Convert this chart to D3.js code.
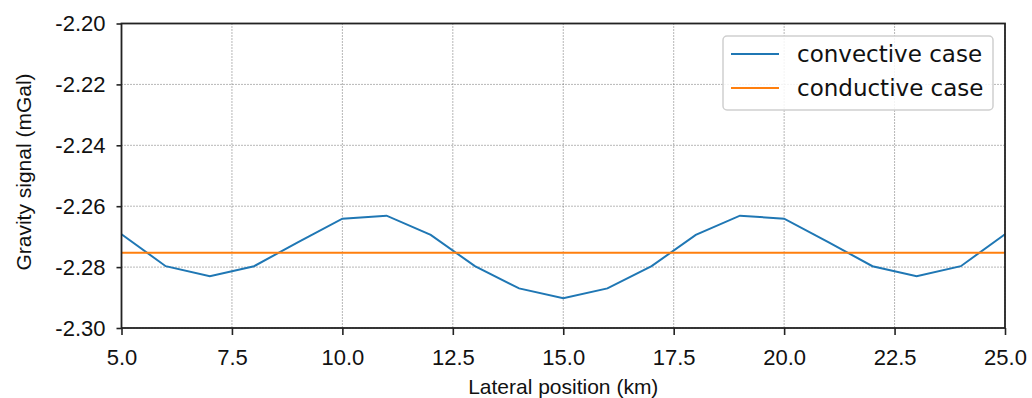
<!DOCTYPE html>
<html>
<head>
<meta charset="utf-8">
<script src="https://cdn.jsdelivr.net/npm/d3@7"></script>
<style>
  html, body { margin: 0; padding: 0; background: #fff; }
  svg { display: block; }
</style>
</head>
<body>
<svg id="chart" width="1032" height="398"></svg>
<script>
// ---- data ----
const positions = [5, 6, 7, 8, 9, 10, 11, 12, 13, 14, 15, 16, 17, 18, 19, 20, 21, 22, 23, 24, 25];
const convective = [-2.2692, -2.2797, -2.2830, -2.2797, -2.2718, -2.2641, -2.2631, -2.2694, -2.2797, -2.2870, -2.2902, -2.2870, -2.2797, -2.2694, -2.2631, -2.2641, -2.2718, -2.2797, -2.2830, -2.2797, -2.2692];
const conductiveValue = -2.2753;
const conductive = positions.map(() => conductiveValue);
const xTicks = [5.0, 7.5, 10.0, 12.5, 15.0, 17.5, 20.0, 22.5, 25.0];
const yTicks = [-2.20, -2.22, -2.24, -2.26, -2.28, -2.30];
const seriesNames = ["convective case", "conductive case"];
const seriesColors = ["#1f77b4", "#ff7f0e"];

// ---- layout ----
const svg = d3.select("#chart");
const L = 121.5, R = 1005, T = 23.5, B = 328;
const x = d3.scaleLinear().domain([5, 25]).range([L, R]);
const y = d3.scaleLinear().domain([-2.30, -2.20]).range([B, T]);

// grid
const grid = svg.append("g");
grid.selectAll("line.gx").data(xTicks).join("line")
  .attr("x1", d => x(d)).attr("x2", d => x(d)).attr("y1", T).attr("y2", B)
  .attr("stroke", "#6e6e6e").attr("stroke-width", 1).attr("stroke-dasharray", "1,2");
grid.selectAll("line.gy").data(yTicks).join("line")
  .attr("x1", L).attr("x2", R).attr("y1", d => y(d)).attr("y2", d => y(d))
  .attr("stroke", "#6e6e6e").attr("stroke-width", 1).attr("stroke-dasharray", "1,2");

// lines
const line = d3.line().x((d, i) => x(positions[i])).y(d => y(d));
svg.append("path").datum(convective).attr("d", line)
  .attr("fill", "none").attr("stroke", seriesColors[0]).attr("stroke-width", 2);
svg.append("path").datum(conductive).attr("d", line)
  .attr("fill", "none").attr("stroke", seriesColors[1]).attr("stroke-width", 2);

// axes
const xAxis = d3.axisBottom(x).tickValues(xTicks).tickFormat(d3.format(".1f")).tickSize(7).tickSizeOuter(0).tickPadding(14);
const yAxis = d3.axisLeft(y).tickValues(yTicks).tickFormat(d => d3.format(".2f")(d).replace("−", "-")).tickSize(5).tickSizeOuter(0).tickPadding(11);

const gx = svg.append("g").attr("transform", `translate(0,${B})`).call(xAxis);
const gy = svg.append("g").attr("transform", `translate(${L},0)`).call(yAxis);
[gx, gy].forEach(g => {
  g.select(".domain").remove();
  g.selectAll(".tick line").attr("stroke", "#222").attr("stroke-width", 1.6);
  g.selectAll(".tick text").attr("fill", "#111").style("font-family", "'Liberation Sans', Arial, sans-serif").style("font-size", "22px");
});

// spines
svg.append("rect").attr("x", L).attr("y", T).attr("width", R - L).attr("height", B - T)
  .attr("fill", "none").attr("stroke", "#222").attr("stroke-width", 1.8);

// axis labels
svg.append("text").attr("x", (L + R) / 2).attr("y", 394)
  .attr("text-anchor", "middle").attr("fill", "#111")
  .style("font-family", "'Liberation Sans', Arial, sans-serif").style("font-size", "21px")
  .text("Lateral position (km)");
svg.append("text").attr("transform", `translate(31,172) rotate(-90)`)
  .attr("text-anchor", "middle").attr("fill", "#111")
  .style("font-family", "'Liberation Sans', Arial, sans-serif").style("font-size", "21px")
  .text("Gravity signal (mGal)");

// legend
const lg = svg.append("g");
lg.append("rect").attr("x", 723).attr("y", 36).attr("width", 270).attr("height", 74)
  .attr("rx", 4).attr("fill", "#fff").attr("fill-opacity", 0.85).attr("stroke", "#cfcfcf").attr("stroke-width", 1.5);
seriesNames.forEach((name, i) => {
  const yy = 54 + i * 34;
  lg.append("line").attr("x1", 731).attr("x2", 779).attr("y1", yy).attr("y2", yy)
    .attr("stroke", seriesColors[i]).attr("stroke-width", 2);
  lg.append("text").attr("x", 797).attr("y", yy).attr("dy", "0.35em").attr("fill", "#111")
    .style("font-family", "'DejaVu Sans', sans-serif").style("font-size", "23px")
    .text(name);
});
</script>
</body>
</html>
